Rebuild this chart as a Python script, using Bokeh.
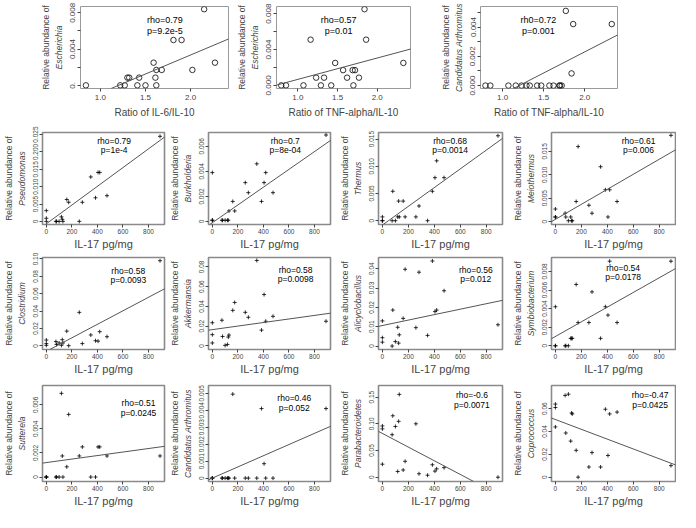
from bokeh.plotting import figure
from bokeh.models import Slope, Label, LinearAxis, FixedTicker, Range1d
from bokeh.layouts import row, column
from bokeh.embed import file_html
from bokeh.resources import INLINE

FONT = "Liberation Sans"

# ---------------- Panel A data ----------------
il6_ratio = [0.84, 1.22, 1.27, 1.30, 1.32, 1.41, 1.43, 1.50, 1.59, 1.61, 1.62, 1.62, 1.68, 1.81, 1.90, 2.02, 2.15, 2.27]
escherichia_vs_il6 = [0, 0, 0, 0.00085, 0.00085, 0, 0.00085, 0, 0.0025, 0.00085, 0, 0.0017, 0.0017,
                      0.0050, 0.0050, 0.0017, 0.0084, 0.0025]
tnf_ratio = [0.79, 0.85, 1.07, 1.16, 1.23, 1.29, 1.33, 1.42, 1.47, 1.57, 1.62, 1.69, 1.70, 1.72, 1.77, 1.84, 1.86, 2.33]
escherichia_vs_tnf = [0, 0, 0, 0.0051, 0.00086, 0, 0.00086, 0, 0.0025, 0.0017, 0.00086, 0.0017, 0, 0.0017,
                      0.00086, 0.0085, 0.0051, 0.0025]
arthromitus_vs_tnf = [0, 0, 0, 0, 0, 0, 0, 0, 0, 0, 0, 0, 0, 0, 0.0051, 0.00083, 0.0042, 0.0042]

a_xtitles = ["Ratio of IL-6/IL-10", "Ratio of TNF-alpha/IL-10", "Ratio of TNF-alpha/IL-10"]
a_genus = ["Escherichia", "Escherichia", "Candidatus Arthromitus"]
a_stats = [("rho=0.79", "p=9.2e-5"), ("rho=0.57", "p=0.01"), ("rh0=0.72", "p=0.001")]
a_slope = [0.0042, 0.00238, 0.00288]
a_intercept = [-0.00505, -0.00171, -0.00346]
a_xticks = [1.0, 1.5, 2.0]
a_xlabels = ["1.0", "1.5", "2.0"]
a_yticks = [[0, 0.002, 0.004, 0.006, 0.008],
            [0, 0.002, 0.004, 0.006, 0.008],
            [0, 0.001, 0.002, 0.003, 0.004, 0.005]]
a_ylabels = [["0.", "", "0.004", "", "0.008"],
             ["0.000", "", "0.004", "", "0.008"],
             ["0.000", "", "0.002", "", "0.004", ""]]

# ---------------- Panel B data ----------------
il17 = [0, 0, 0, 75, 80, 100, 118, 125, 130, 160, 175, 258, 282, 348, 385, 405, 418, 475, 890]
pseudomonas = [0.0031, 0.0009, 0.0, 0.0, 0.0, 0.0, 0.0013, 0.0006, 0.0, 0.0063, 0.0055, 0.0, 0.0055,
               0.0128, 0.0068, 0.0141, 0.0141, 0.0074, 0.0245]
burkholderia = [0.0001, 0.0039, 0.0001, 0.0001, 0.0001, 0.0001, 0.0001, 0.0001, 0.00084, 0.0016, 0.00084,
                0.0031, 0.0023, 0.0046, 0.0016, 0.0031, 0.0039, 0.0023, 0.0069]
thermus = [0.0007, 0.0, 0.0, 0.0, 0.0054, 0.0, 0.0007, 0.0036, 0.0007, 0.0036, 0.0007, 0.0007, 0.0027,
           0.0, 0.0054, 0.0079, 0.0110, 0.0079, 0.0156]
meiothermus = [0.0027, 0.0010, 0.0010, 0.0018, 0.0010, 0.0002, 0.0010, 0.0002, 0.0002, 0.0043, 0.0160,
               0.0035, 0.0018, 0.0117, 0.0068, 0.0010, 0.0068, 0.0043, 0.0184]
clostridium = [0.0068, 0.0027, 0.0007, 0.0050, 0.0017, 0.0034, 0.0007, 0.0072, 0.0034, 0.0170, 0.0003,
               0.0386, 0.0027, 0.0126, 0.0060, 0.0055, 0.0164, 0.0106, 0.0980]
akkermansia = [0.0235, 0.0114, 0.0030, 0.0260, 0.0096, 0.0006, 0.0015, 0.0090, 0.0110, 0.0360, 0.0440,
               0.0340, 0.0290, 0.0865, 0.0160, 0.0520, 0.0250, 0.0300, 0.0250]
alicyclobacillus = [0.0130, 0.0043, 0.0020, 0.0, 0.0186, 0.0023, 0.0097, 0.0015, 0.0058, 0.0143, 0.0397,
                    0.0095, 0.0382, 0.0055, 0.0440, 0.0178, 0.0186, 0.0286, 0.0110]
symbiobacterium = [0.0042, 0.0, 0.0, 0.0, 0.0, 0.0, 0.0008, 0.0008, 0.0008, 0.0066, 0.0025, 0.0025,
                   0.0058, 0.0008, 0.0042, 0.0033, 0.0091, 0.0025, 0.0091]
sutterela = [0.0, 0.0, 0.0, 0.0, 0.0, 0.0, 0.00695, 0.00175, 0.0, 0.00085, 0.0052, 0.00175, 0.0025,
             0.0, 0.0, 0.0025, 0.0025, 0.00175, 0.00175]
arthromitus = [0.0, 0.0, 0.0, 0.0, 0.0, 0.0, 0.0, 0.0, 0.0, 0.00495, 0.0, 0.0, 0.0, 0.0, 0.0041,
               0.00085, 0.0, 0.0, 0.0041]
parabacteroidetes = [0.0960, 0.0905, 0.0244, 0.0796, 0.1150, 0.0950, 0.0108, 0.1046, 0.1550, 0.0135,
                     0.0298, 0.1000, 0.0065, 0.0038, 0.0233, 0.0114, 0.0157, 0.0179, 0.0]
coprococcus = [0.0640, 0.0610, 0.0440, 0.0716, 0.0387, 0.0727, 0.0316, 0.0562, 0.0554, 0.0235, 0.0,
               0.0089, 0.0215, 0.0089, 0.0595, 0.0190, 0.0554, 0.0570, 0.0101]

b_series = [pseudomonas, burkholderia, thermus, meiothermus, clostridium, akkermansia,
            alicyclobacillus, symbiobacterium, sutterela, arthromitus, parabacteroidetes, coprococcus]
b_genus = ["Pseudomonas", "Burkholderia", "Thermus", "Meiothermus", "Clostridium", "Akkermansia",
           "Alicyclobacillus", "Symbiobacterium", "Sutterela", "Candidatus Arthromitus",
           "Parabacteroidetes", "Coprococcus"]
b_stats = [("rho=0.79", "p=1e-4"), ("rho=0.7", "p=8e-04"), ("rho=0.68", "p=0.0014"), ("rho=0.61", "p=0.006"),
           ("rho=0.58", "p=0.0093"), ("rho=0.58", "p=0.0098"), ("rho=0.56", "p=0.012"), ("rho=0.54", "p=0.0178"),
           ("rho=0.51", "p=0.0245"), ("rho=0.46", "p=0.052"), ("rho=-0.6", "p=0.0071"), ("rho=-0.47", "p=0.0425")]
b_slope = [2.7e-5, 7.1e-6, 1.72e-5, 1.6e-5, 7.77e-5, 1.8e-5, 1.41e-5, 7.9e-6, 1.46e-6, 3.3e-6, -1.28e-4, -4.3e-5]
b_intercept = [-0.0007, -0.0001, -0.0008, 0.0005, -0.0062, 0.0165, 0.0106, 0.0010, 0.0012, 0.0, 0.082, 0.0505]
b_xticks = [0, 200, 400, 600, 800]
b_xlabels = ["0", "200", "400", "600", "800"]
b_yticks = [[0, 0.005, 0.010, 0.015, 0.020, 0.025],
            [0, 0.002, 0.004, 0.006],
            [0, 0.005, 0.010, 0.015],
            [0, 0.005, 0.010, 0.015],
            [0, 0.02, 0.04, 0.06, 0.08, 0.10],
            [0, 0.02, 0.04, 0.06, 0.08],
            [0, 0.01, 0.02, 0.03, 0.04],
            [0, 0.002, 0.004, 0.006, 0.008],
            [0, 0.002, 0.004, 0.006],
            [0, 0.001, 0.002, 0.003, 0.004, 0.005],
            [0, 0.05, 0.10, 0.15],
            [0, 0.02, 0.04, 0.06]]
b_ylabels = [["0", "0.005", "0.010", "0.015", "0.200", "0.025"],
             ["0", "0.002", "0.004", "0.006"],
             ["0", "0.005", "0.010", "0.015"],
             ["0", "0.005", "0.010", "0.015"],
             ["0", "0.02", "0.04", "0.06", "0.08", "0.10"],
             ["0", "0.02", "0.04", "0.06", "0.08"],
             ["0", "0.01", "0.02", "0.03", "0.04"],
             ["0", "0.002", "0.004", "0.006", "0.008"],
             ["0", "0.002", "0.004", "0.006"],
             ["0", "0.001", "0.002", "0.003", "0.004", "0.005"],
             ["0", "0.05", "0.10", "0.15"],
             ["0", "0.02", "0.04", "0.06"]]

# ---------------- layout / style (not data) ----------------
a_xrange = [(0.78, 2.42), (0.73, 2.42), (0.73, 2.40)]
a_yrange = [(-0.00035, 0.0087), (-0.00035, 0.0088), (-0.0002, 0.0054)]
a_frame_w = [148, 135, 138]
a_left = [80, 42, 42]
a_right = [5, 27, 5]
a_stat_pos = [(0.57, 0.18), (0.46, 0.18), (0.42, 0.18)]
A_TOP, A_FRAME_H, A_BOTTOM = 6, 84, 30

b_xrange = (-30, 925)
b_yrange = [(-0.0009, 0.0256), (-0.00024, 0.0071), (-0.0007, 0.0162), (-0.0006, 0.019),
            (-0.0041, 0.1017), (-0.0036, 0.0895), (-0.0018, 0.0458), (-0.0004, 0.0095),
            (-0.00037, 0.0076), (-0.0002, 0.00546), (-0.008, 0.1717), (-0.0038, 0.0803)]
b_stat_pos = [(0.56, 0.11), (0.60, 0.11), (0.56, 0.11), (0.68, 0.11),
              (0.67, 0.16), (0.68, 0.15), (0.76, 0.15), (0.56, 0.13),
              (0.75, 0.20), (0.67, 0.15), (0.73, 0.12), (0.77, 0.12)]
b_left = [36, 36, 38, 38]
b_right = [2, 6, 7, 1]
B_FRAME_W = 128
b_row_top = [12, 5, 8]
b_row_frame_h = [94, 94, 98]
B_BOTTOM = 26


def make_panel(xs, ys, xr, yr, xticks, xlabels, yticks, ylabels, genus, xtitle, stats, stat_pos,
               slope, intercept, frame_w, frame_h, left, right, top, bottom, kind):
    p = figure(width=left + frame_w + right, height=top + frame_h + bottom,
               x_range=Range1d(*xr), y_range=Range1d(*yr), title=None,
               output_backend="svg", toolbar_location=None,
               min_border_left=left, min_border_right=right,
               min_border_top=top, min_border_bottom=bottom)
    p.grid.visible = False
    p.background_fill_color = "white"
    p.border_fill_color = "white"
    p.outline_line_color = "#8a8a8a" if kind == "B" else "#9a9a9a"
    p.outline_line_width = 1.6 if kind == "B" else 1.0

    tick_fs = "6.5px" if kind == "B" else "8px"
    title_fs = "11px" if kind == "B" else "10px"
    ylab_fs = "8.5px"

    xax = p.xaxis[0]
    xax.ticker = FixedTicker(ticks=xticks)
    xax.major_label_overrides = {t: l for t, l in zip(xticks, xlabels)}
    xax.axis_label = xtitle
    xax.axis_label_text_font = FONT
    xax.axis_label_text_font_size = title_fs
    xax.axis_label_text_font_style = "normal"
    xax.axis_label_standoff = 1 if kind == "B" else 4
    xax.major_label_text_font = FONT
    xax.major_label_text_font_size = tick_fs
    xax.major_label_standoff = 1 if kind == "B" else 3
    xax.axis_line_color = None
    xax.major_tick_out = 3
    xax.major_tick_in = 0
    xax.major_tick_line_color = "#444444"
    xax.minor_tick_line_color = None

    yax = p.yaxis[0]
    yax.ticker = FixedTicker(ticks=yticks)
    yax.major_label_overrides = {t: l for t, l in zip(yticks, ylabels)}
    yax.major_label_orientation = "vertical"
    yax.axis_label = genus
    yax.axis_label_text_font = FONT
    yax.axis_label_text_font_size = ylab_fs
    yax.axis_label_text_font_style = "italic"
    yax.axis_label_standoff = 4
    yax.major_label_text_font = FONT
    yax.major_label_text_font_size = tick_fs
    yax.major_label_standoff = 1 if kind == "B" else 2
    yax.axis_line_color = None
    yax.major_tick_out = 3
    yax.major_tick_in = 0
    yax.major_tick_line_color = "#444444"
    yax.minor_tick_line_color = None

    extra = LinearAxis(ticker=FixedTicker(ticks=[]), axis_label="Relative abundance of",
                       axis_label_text_font=FONT, axis_label_text_font_size=ylab_fs,
                       axis_label_text_font_style="normal", axis_label_standoff=0,
                       major_label_standoff=0, major_tick_out=0, major_tick_in=0,
                       axis_line_color=None, major_label_text_font_size="0px",
                       minor_tick_line_color=None)
    p.add_layout(extra, "left")

    if kind == "A":
        p.scatter(xs, ys, marker="circle", size=5.5, fill_color=None, line_color="black", line_width=0.8)
    else:
        p.scatter(xs, ys, marker="cross", size=4, line_color="black", line_width=0.8)

    p.add_layout(Slope(gradient=slope, y_intercept=intercept, line_color="#555555", line_width=1))

    gap = 11 if kind == "A" else 9.5
    fs = "9px" if kind == "A" else "8.5px"
    fx, fy = stat_pos
    for k, txt in enumerate(stats):
        p.add_layout(Label(x=fx * frame_w, y=(1 - fy) * frame_h - k * gap, x_units="screen",
                           y_units="screen", text=txt, text_align="center", text_baseline="middle",
                           text_font=FONT, text_font_size=fs, text_color="black"))
    return p


a_x = [il6_ratio, tnf_ratio, tnf_ratio]
a_y = [escherichia_vs_il6, escherichia_vs_tnf, arthromitus_vs_tnf]
a_figs = []
for i in range(3):
    a_figs.append(make_panel(a_x[i], a_y[i], a_xrange[i], a_yrange[i], a_xticks, a_xlabels,
                             a_yticks[i], a_ylabels[i], a_genus[i], a_xtitles[i], a_stats[i],
                             a_stat_pos[i], a_slope[i], a_intercept[i], a_frame_w[i], A_FRAME_H,
                             a_left[i], a_right[i], A_TOP, A_BOTTOM, "A"))
a_figs[0].add_layout(Label(x=-79, y=A_FRAME_H + A_TOP - 1, x_units="screen", y_units="screen", text="A",
                           text_align="left", text_baseline="top", text_font=FONT,
                           text_font_size="17px", text_font_style="bold", text_color="black"))

rows = [row(*a_figs)]
for r in range(3):
    figs = []
    for c in range(4):
        i = r * 4 + c
        figs.append(make_panel(il17, b_series[i], b_xrange, b_yrange[i], b_xticks, b_xlabels,
                               b_yticks[i], b_ylabels[i], b_genus[i], "IL-17 pg/mg", b_stats[i],
                               b_stat_pos[i], b_slope[i], b_intercept[i], B_FRAME_W, b_row_frame_h[r],
                               b_left[c], b_right[c], b_row_top[r], B_BOTTOM, "B"))
    if r == 0:
        figs[0].add_layout(Label(x=-35, y=b_row_frame_h[0] + b_row_top[0] - 1, x_units="screen",
                                 y_units="screen", text="B", text_align="left", text_baseline="top",
                                 text_font=FONT, text_font_size="17px", text_font_style="bold",
                                 text_color="black"))
    rows.append(row(*figs))

layout = column(*rows)
open("out.html", "w").write(file_html(layout, INLINE))
